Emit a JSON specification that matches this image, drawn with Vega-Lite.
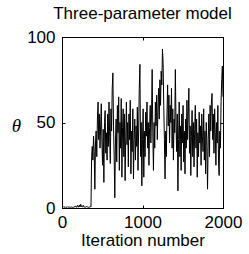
{
  "$schema": "https://vega.github.io/schema/vega-lite/v6.json",
  "width": 161,
  "height": 171,
  "autosize": {"type": "none"},
  "padding": {"left": 62, "top": 37, "right": 26, "bottom": 46},
  "background": "white",
  "title": {"text": "Three-parameter model", "fontSize": 17, "font": "Liberation Sans", "fontWeight": "normal", "anchor": "middle", "frame": "group", "offset": 5, "color": "#000"},
  "config": {
    "view": {"stroke": "#000", "strokeWidth": 1},
    "axis": {"grid": false, "domainColor": "#000", "tickColor": "#000", "labelColor": "#000", "titleColor": "#000", "labelFont": "Liberation Sans", "labelFontSize": 17, "titleFont": "Liberation Sans", "titleFontSize": 17, "titleFontWeight": "normal", "labelOverlap": false, "labelFlush": false, "format": "d"}
  },
  "data": {"values": [
    {"i":0,"t":1},{"i":8,"t":0.5},{"i":16,"t":0.8},{"i":24,"t":0.4},{"i":32,"t":0.6},{"i":40,"t":0.3},{"i":48,"t":0.7},{"i":56,"t":0.5},{"i":64,"t":0.4},{"i":72,"t":0.8},{"i":80,"t":0.5},{"i":88,"t":0.3},{"i":96,"t":0.6},{"i":104,"t":0.4},{"i":112,"t":0.7},{"i":120,"t":0.5},{"i":128,"t":0.3},{"i":136,"t":0.6},{"i":144,"t":0.4},{"i":152,"t":0.8},{"i":160,"t":0.5},{"i":168,"t":1.2},{"i":176,"t":0.6},{"i":184,"t":0.4},{"i":192,"t":1.5},{"i":200,"t":0.7},{"i":208,"t":0.5},{"i":216,"t":1.8},{"i":224,"t":0.6},{"i":232,"t":2.2},{"i":240,"t":0.8},{"i":248,"t":1.0},{"i":256,"t":0.5},{"i":264,"t":1.6},{"i":272,"t":0.7},{"i":280,"t":0.5},{"i":288,"t":0.6},{"i":296,"t":0.4},{"i":304,"t":0.9},{"i":312,"t":0.5},{"i":320,"t":0.7},{"i":328,"t":0.4},{"i":336,"t":0.6},{"i":344,"t":0.5},{"i":352,"t":0.8},{"i":360,"t":0.6},
    {"i":368,"t":30},{"i":376,"t":36},{"i":384,"t":28},{"i":392,"t":42},{"i":400,"t":33},{"i":408,"t":11},{"i":416,"t":38},{"i":424,"t":45},{"i":432,"t":30},{"i":440,"t":52},{"i":448,"t":62},{"i":456,"t":40},{"i":464,"t":55},{"i":472,"t":35},{"i":480,"t":48},{"i":488,"t":61},{"i":496,"t":38},
    {"i":504,"t":25},{"i":512,"t":46},{"i":520,"t":15},{"i":528,"t":50},{"i":536,"t":57},{"i":544,"t":32},{"i":552,"t":44},{"i":560,"t":28},{"i":568,"t":55},{"i":576,"t":36},{"i":584,"t":62},{"i":592,"t":42},{"i":600,"t":26},{"i":608,"t":58},{"i":616,"t":45},{"i":624,"t":70},{"i":632,"t":79},{"i":640,"t":48},{"i":648,"t":30},{"i":656,"t":6},{"i":664,"t":38},{"i":672,"t":52},{"i":680,"t":27},{"i":688,"t":60},{"i":696,"t":44},
    {"i":704,"t":65},{"i":712,"t":22},{"i":720,"t":50},{"i":728,"t":35},{"i":736,"t":64},{"i":744,"t":18},{"i":752,"t":47},{"i":760,"t":58},{"i":768,"t":30},{"i":776,"t":55},{"i":784,"t":16},{"i":792,"t":42},{"i":800,"t":62},{"i":808,"t":37},{"i":816,"t":50},{"i":824,"t":24},{"i":832,"t":55},{"i":840,"t":40},{"i":848,"t":63},{"i":856,"t":20},{"i":864,"t":45},{"i":872,"t":33},{"i":880,"t":58},{"i":888,"t":17},{"i":896,"t":40},
    {"i":904,"t":52},{"i":912,"t":28},{"i":920,"t":48},{"i":928,"t":36},{"i":936,"t":59},{"i":944,"t":22},{"i":952,"t":45},{"i":960,"t":70},{"i":968,"t":84},{"i":976,"t":30},{"i":984,"t":50},{"i":992,"t":13},{"i":1000,"t":40},{"i":1008,"t":58},{"i":1016,"t":18},{"i":1024,"t":45},{"i":1032,"t":30},{"i":1040,"t":56},{"i":1048,"t":42},{"i":1056,"t":62},{"i":1064,"t":35},{"i":1072,"t":50},{"i":1080,"t":25},{"i":1088,"t":47},{"i":1096,"t":60},
    {"i":1104,"t":38},{"i":1112,"t":55},{"i":1120,"t":81},{"i":1128,"t":44},{"i":1136,"t":22},{"i":1144,"t":50},{"i":1152,"t":35},{"i":1160,"t":62},{"i":1168,"t":48},{"i":1176,"t":66},{"i":1184,"t":40},{"i":1192,"t":58},{"i":1200,"t":70},{"i":1208,"t":52},{"i":1216,"t":75},{"i":1224,"t":60},{"i":1232,"t":80},{"i":1240,"t":72},{"i":1248,"t":93},{"i":1256,"t":85},{"i":1264,"t":60},{"i":1272,"t":40},{"i":1280,"t":17},{"i":1288,"t":45},{"i":1296,"t":30},
    {"i":1304,"t":55},{"i":1312,"t":72},{"i":1320,"t":48},{"i":1328,"t":66},{"i":1336,"t":38},{"i":1344,"t":60},{"i":1352,"t":50},{"i":1360,"t":70},{"i":1368,"t":35},{"i":1376,"t":58},{"i":1384,"t":28},{"i":1392,"t":52},{"i":1400,"t":44},{"i":1408,"t":81},{"i":1416,"t":50},{"i":1424,"t":33},{"i":1432,"t":55},{"i":1440,"t":10},{"i":1448,"t":40},{"i":1456,"t":62},{"i":1464,"t":30},{"i":1472,"t":48},{"i":1480,"t":22},{"i":1488,"t":55},{"i":1496,"t":38},
    {"i":1504,"t":60},{"i":1512,"t":27},{"i":1520,"t":45},{"i":1528,"t":20},{"i":1536,"t":52},{"i":1544,"t":35},{"i":1552,"t":63},{"i":1560,"t":40},{"i":1568,"t":55},{"i":1576,"t":70},{"i":1584,"t":32},{"i":1592,"t":48},{"i":1600,"t":19},{"i":1608,"t":42},{"i":1616,"t":57},{"i":1624,"t":30},{"i":1632,"t":50},{"i":1640,"t":24},{"i":1648,"t":46},{"i":1656,"t":60},{"i":1664,"t":35},{"i":1672,"t":52},{"i":1680,"t":18},{"i":1688,"t":44},{"i":1696,"t":30},
    {"i":1704,"t":56},{"i":1712,"t":38},{"i":1720,"t":48},{"i":1728,"t":25},{"i":1736,"t":55},{"i":1744,"t":42},{"i":1752,"t":33},{"i":1760,"t":58},{"i":1768,"t":28},{"i":1776,"t":45},{"i":1784,"t":20},{"i":1792,"t":50},{"i":1800,"t":36},{"i":1808,"t":11},{"i":1816,"t":40},{"i":1824,"t":55},{"i":1832,"t":30},{"i":1840,"t":60},{"i":1848,"t":45},{"i":1856,"t":62},{"i":1864,"t":67},{"i":1872,"t":40},{"i":1880,"t":55},{"i":1888,"t":32},{"i":1896,"t":58},
    {"i":1904,"t":44},{"i":1912,"t":25},{"i":1920,"t":50},{"i":1928,"t":38},{"i":1936,"t":60},{"i":1944,"t":28},{"i":1952,"t":19},{"i":1960,"t":45},{"i":1968,"t":35},{"i":1976,"t":62},{"i":1984,"t":75},{"i":1992,"t":83},{"i":2000,"t":65}
  ]},
  "layer": [
    {
      "mark": {"type": "line", "color": "#000", "strokeWidth": 1, "clip": true},
      "encoding": {
        "x": {"field": "i", "type": "quantitative", "scale": {"domain": [0, 2000], "nice": false, "zero": false},
              "axis": {"orient": "bottom", "values": [0, 1000, 2000], "tickSize": -3, "labelPadding": 9, "title": "Iteration number", "titleX": 80.5, "titleY": 37, "titleBaseline": "alphabetic", "titleAlign": "center"}},
        "y": {"field": "t", "type": "quantitative", "scale": {"domain": [0, 100], "nice": false},
              "axis": {"orient": "left", "values": [0, 50, 100], "tickSize": -3, "labelPadding": 10, "title": "θ", "titleAngle": 0, "titleFont": "Liberation Serif", "titleFontStyle": "italic", "titleFontSize": 19, "titleX": -46, "titleY": 88, "titleAlign": "center", "titleBaseline": "middle"}}
      }
    },
    {
      "mark": {"type": "line", "opacity": 0},
      "encoding": {
        "x": {"field": "i", "type": "quantitative", "axis": {"orient": "top", "values": [0, 1000, 2000], "tickSize": -3, "labels": false, "title": null}},
        "y": {"field": "t", "type": "quantitative", "axis": {"orient": "right", "values": [0, 50, 100], "tickSize": -3, "labels": false, "title": null}}
      }
    }
  ],
  "resolve": {"axis": {"x": "independent", "y": "independent"}}
}
